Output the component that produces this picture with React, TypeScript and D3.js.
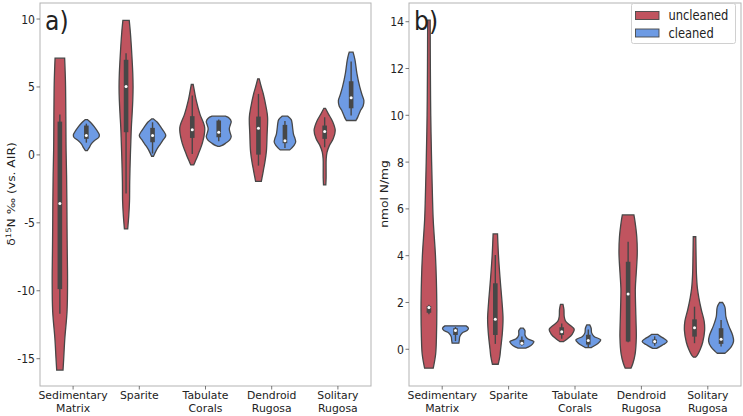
import React from 'react';
import * as d3 from 'd3';

// category labels (two lines where the original wraps)
const categories = [['Sedimentary', 'Matrix'], ['Sparite'], ['Tabulate', 'Corals'], ['Dendroid', 'Rugosa'], ['Solitary', 'Rugosa']];
const hues = ['uncleaned', 'cleaned'];
const hueColors = ['#c0545f', '#6e9be4'];

const d15NTicks = [-15, -10, -5, 0, 5, 10];
const nmolTicks = [0, 2, 4, 6, 8, 10, 12, 14];

// violin outlines: [value, density], top to bottom
const d15NUncleaned = [
  [[7.12, 5], [5.5, 5.8], [4.0, 6.1], [2, 6.3], [0.3, 6.5], [-1.5, 7], [-3.4, 7.3], [-5.5, 7.5], [-7.0, 7.7], [-9.3, 8], [-11.5, 7.5], [-13.5, 5.2], [-15.0, 4], [-15.84, 3.3]],
  [[9.9, 3.3], [9, 4.5], [8, 5.5], [7, 6.3], [6, 7], [5, 7.3], [4, 7], [3, 6.3], [2, 5.5], [1, 5], [-0.5, 4.3], [-2, 3.8], [-3.4, 3.6], [-4.5, 2.8], [-5.45, 1.7]],
  [[5.18, 1], [4.6, 2.5], [4.0, 4.2], [3.0, 8], [2.0, 13], [1.0, 11], [0, 6], [-0.5, 3], [-0.74, 1.5]],
  [[5.6, 0.8], [5.0, 3], [4.5, 5], [3.5, 8], [2.77, 9.5], [1.5, 9], [0.3, 8.3], [-0.5, 6.8], [-1, 5.5], [-1.5, 4.2], [-1.95, 3]],
  [[3.43, 0.8], [3.0, 4], [2.5, 8], [1.8, 11], [1.2, 9], [0.7, 5], [0.2, 2.5], [-0.3, 1.6], [-1.0, 1.5], [-1.7, 1.5], [-2.21, 1.2]],
];
const d15NCleaned = [
  [[2.6, 1], [2.35, 5], [2.1, 8], [1.8, 11], [1.5, 13.5], [1.3, 13], [1.05, 8.5], [0.8, 5], [0.53, 3], [0.32, 1]],
  [[2.65, 1], [2.4, 5], [2.03, 8.8], [1.7, 12], [1.42, 13.8], [1.1, 11], [0.69, 7], [0.35, 4], [-0.1, 1]],
  [[2.85, 7], [2.7, 11], [2.45, 13], [2.2, 12], [1.9, 11], [1.6, 12], [1.35, 13], [1.1, 11.5], [0.85, 7], [0.68, 3], [0.63, 1]],
  [[2.85, 3], [2.6, 6.5], [2.3, 7.5], [2.0, 8], [1.5, 9], [1.2, 10.5], [0.95, 11.2], [0.7, 9.5], [0.5, 7], [0.37, 5]],
  [[7.56, 2], [7.0, 4], [6.0, 6], [5.0, 9], [4.4, 11.5], [4.0, 13.3], [3.6, 12.5], [3.3, 10], [2.8, 7], [2.53, 5]],
];
// inner box: [whisker low, q1, median, q3, whisker high]
const d15NBoxUncleaned = [[-11.7, -9.88, -3.57, 2.45, 2.97], [-2.85, 1.67, 5.03, 7.0, 7.49], [0.07, 1.25, 1.86, 2.85, 4.37], [-0.79, 0.02, 1.96, 2.82, 4.49], [0.56, 1.18, 1.72, 2.16, 2.77]];
const d15NBoxCleaned = [[0.9, 1.18, 1.42, 2.16, 2.3], [0.1, 0.93, 1.42, 1.99, 2.4], [1.0, 1.3, 1.67, 2.53, 2.6], [0.5, 0.86, 1.05, 2.21, 2.5], [2.9, 3.43, 4.2, 5.42, 6.88]];

const nmolUncleaned = [
  [[14.07, 1.3], [12, 1.5], [10, 1.9], [8, 2.8], [6.5, 3.7], [5.5, 4.5], [4, 6.8], [3, 7.7], [1.7, 8.2], [0.5, 7.8], [-0.2, 7], [-0.81, 4.5]],
  [[4.93, 2.3], [4.0, 3.3], [3.0, 5], [2.0, 7], [1.3, 8], [0.7, 7.3], [0, 5.5], [-0.3, 4.7], [-0.64, 3]],
  [[1.92, 1.3], [1.7, 2.3], [1.4, 2.6], [1.2, 4], [1.05, 8], [0.85, 13], [0.65, 11], [0.45, 6], [0.33, 2]],
  [[5.74, 6], [5.5, 7], [4.8, 9], [4.1, 9.5], [3.3, 8.5], [2.6, 7.5], [1.8, 7.8], [1.2, 8.2], [0.5, 8.5], [-0.2, 7.3], [-0.6, 5], [-0.81, 3]],
  [[4.81, 1.3], [4, 1.6], [3.2, 2], [2.6, 3], [2.2, 4.5], [1.7, 7], [1.2, 10], [0.8, 10.5], [0.3, 8.5], [0, 6], [-0.25, 3], [-0.34, 1]],
];
const nmolCleaned = [
  [[1.0, 11], [0.9, 13.5], [0.8, 12], [0.7, 7], [0.55, 4.5], [0.4, 4], [0.26, 3.5]],
  [[0.9, 1.5], [0.8, 3.2], [0.6, 3.3], [0.45, 6], [0.33, 12.5], [0.22, 11], [0.1, 7], [0.05, 4]],
  [[1.04, 1.5], [0.9, 3], [0.7, 3.5], [0.55, 6], [0.4, 13], [0.25, 10], [0.12, 5], [0.07, 3]],
  [[0.64, 3], [0.55, 6], [0.45, 10], [0.33, 13], [0.2, 9], [0.1, 5], [0.04, 2]],
  [[2.0, 1.5], [1.8, 4], [1.4, 5], [1.0, 8], [0.6, 12], [0.35, 13], [0.1, 10.5], [-0.1, 6], [-0.17, 4]],
];
const nmolBoxUncleaned = [[1.5, 1.56, 1.79, 1.85, 1.9], [0.23, 0.61, 1.28, 2.82, 4.03], [0.45, 0.61, 0.75, 0.94, 1.1], [0.3, 0.33, 2.36, 3.74, 4.6], [0.26, 0.54, 0.92, 1.28, 1.82]];
const nmolBoxCleaned = [[0.35, 0.61, 0.8, 0.9, 0.95], [0.15, 0.2, 0.26, 0.4, 0.55], [0.1, 0.2, 0.37, 0.62, 0.85], [0.15, 0.25, 0.33, 0.42, 0.55], [0.12, 0.23, 0.43, 0.9, 1.25]];

const FONT = 'DejaVu Sans, sans-serif';
const EDGE = '#474747';
const SQ = 0.87; // the source figure is squeezed horizontally

function Txt({ x, y, size, anchor = 'start', children, dy, sq = SQ }: any) {
  return (
    <text transform={`translate(${x},${y}) scale(${sq},1)`} dy={dy} textAnchor={anchor} fontFamily={FONT} fontSize={size} fill="#222">{children}</text>
  );
}

function Panel({ left, right, top, bottom, domain, ticks, profiles, boxes, tag, yLabel }: any) {
  const x = d3.scaleBand().domain(categories.map((_, i) => String(i))).range([left, right]);
  const y = d3.scaleLinear().domain(domain).range([bottom, top]);
  const bw = x.bandwidth();
  const dodge = d3.scalePoint().domain(hues).range([-bw * 0.2, bw * 0.2]);
  const dens = d3.scaleLinear().domain([0, 13.8]).range([0, bw * 0.2]);

  return (
    <g>
      {categories.map((_, ci) =>
        hues.map((h, hi) => {
          const cx = x(String(ci))! + bw / 2 + dodge(h)!;
          const area = d3.area<number[]>()
            .y(d => y(d[0]))
            .x0(d => cx - dens(d[1]))
            .x1(d => cx + dens(d[1]))
            .curve(d3.curveCatmullRom.alpha(0.5));
          const [wl, q1, med, q3, wh] = boxes[hi][ci];
          return (
            <g key={ci + h}>
              <path d={area(profiles[hi][ci]) as string} fill={hueColors[hi]} stroke={EDGE} strokeWidth={1.3} />
              <line x1={cx} x2={cx} y1={y(wl)} y2={y(wh)} stroke={EDGE} strokeWidth={1.4} />
              <rect x={cx - 2.3} width={4.6} y={y(q3)} height={Math.max(1.5, y(q1) - y(q3))} fill={EDGE} />
              <circle cx={cx} cy={y(med)} r={1.5} fill="white" />
            </g>
          );
        })
      )}
      <rect x={left} y={top} width={right - left} height={bottom - top} fill="none" stroke="#b3b3b3" strokeWidth={1} />
      {ticks.map((t: number) => (
        <g key={t}>
          <line x1={left - 3.5} x2={left} y1={y(t)} y2={y(t)} stroke="#555" strokeWidth={0.8} />
          <Txt x={left - 5} y={y(t)} dy="0.36em" anchor="end" size={12.5}>{String(t)}</Txt>
        </g>
      ))}
      {categories.map((lines, ci) => {
        const cx = x(String(ci))! + bw / 2;
        return (
          <g key={ci}>
            <line x1={cx} x2={cx} y1={bottom} y2={bottom + 3.5} stroke="#555" strokeWidth={0.8} />
            {lines.map((s, li) => (
              <Txt key={li} x={cx} y={bottom + 12.8 + li * 13.3} anchor="middle" size={11.3} sq={0.96}>{s}</Txt>
            ))}
          </g>
        );
      })}
      <Txt x={left + 5} y={top + 27} size={27}>{tag}</Txt>
      {yLabel}
    </g>
  );
}

export default function App() {
  return (
    <svg width={743} height={416} style={{ position: 'absolute', left: 0, top: 0, background: 'white' }}>
      <Panel
        left={40} right={371} top={3} bottom={386}
        domain={[-17.01, 11.18]} ticks={d15NTicks}
        profiles={[d15NUncleaned, d15NCleaned]} boxes={[d15NBoxUncleaned, d15NBoxCleaned]}
        tag="a)"
        yLabel={
          <text transform={`translate(15,194) rotate(-90) scale(1,${SQ})`} textAnchor="middle" fontFamily={FONT} fontSize={12.3} fill="#222">
            δ<tspan dy={-4.5} fontSize={8.5}>15</tspan><tspan dy={4.5}>N ‰ (vs. AIR)</tspan>
          </text>
        }
      />
      <Panel
        left={409} right={741} top={3} bottom={386}
        domain={[-1.57, 14.8]} ticks={nmolTicks}
        profiles={[nmolUncleaned, nmolCleaned]} boxes={[nmolBoxUncleaned, nmolBoxCleaned]}
        tag="b)"
        yLabel={
          <text transform={`translate(388,194) rotate(-90) scale(1,${SQ})`} textAnchor="middle" fontFamily={FONT} fontSize={12.3} fill="#222">nmol N/mg</text>
        }
      />
      <g>
        <rect x={631.5} y={3.5} width={104} height={40} rx={2} fill="white" fillOpacity={0.85} stroke="#d0d0d0" />
        {hues.map((h, i) => (
          <g key={h}>
            <rect x={635.5} y={11.5 + i * 17.5} width={23.5} height={8} fill={hueColors[i]} stroke={EDGE} strokeWidth={0.9} />
            <Txt x={668.5} y={15.5 + i * 17.5} dy="0.36em" size={13.2}>{h}</Txt>
          </g>
        ))}
      </g>
    </svg>
  );
}
